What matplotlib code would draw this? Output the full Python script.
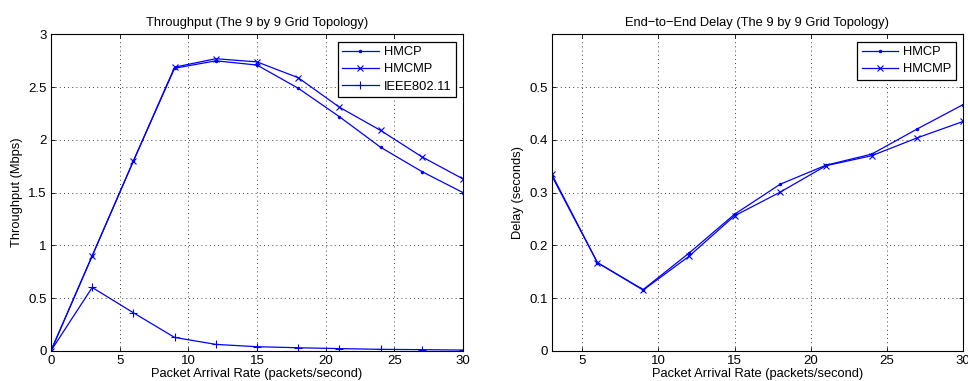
import numpy as np
import matplotlib.pyplot as plt

plt.rcParams['font.family'] = ['Liberation Sans', 'DejaVu Sans']

# throughput data (9 by 9 grid)
rate_tp = [0, 3, 6, 9, 12, 15, 18, 21, 24, 27, 30]
tp_hmcp = [0, 0.90, 1.80, 2.68, 2.75, 2.71, 2.49, 2.22, 1.93, 1.70, 1.50]
tp_hmcmp = [0, 0.90, 1.80, 2.69, 2.77, 2.74, 2.59, 2.31, 2.09, 1.84, 1.63]
tp_ieee = [0, 0.60, 0.36, 0.126, 0.06, 0.038, 0.028, 0.02, 0.013, 0.01, 0.006]

# end-to-end delay data
rate_dl = [3, 6, 9, 12, 15, 18, 21, 24, 27, 30]
dl_hmcp = [0.332, 0.167, 0.116, 0.185, 0.259, 0.316, 0.352, 0.373, 0.421, 0.467]
dl_hmcmp = [0.335, 0.167, 0.115, 0.179, 0.256, 0.301, 0.351, 0.370, 0.404, 0.435]

FS = 9.3


def style_axes(ax):
    ax.grid(True, color='black', linestyle=(0, (1, 4)), linewidth=0.6)
    ax.tick_params(direction='in', top=True, right=True, labelsize=FS + 0.2,
                   length=3, width=0.6, pad=3)
    for s in ax.spines.values():
        s.set_linewidth(0.8)


def add_legend(ax):
    leg = ax.legend(loc='upper right', fontsize=FS, fancybox=False, framealpha=1,
                    edgecolor='black', borderaxespad=0.55, handlelength=2.8,
                    handletextpad=0.4, labelspacing=0.4, borderpad=0.35)
    leg.get_frame().set_linewidth(0.9)


fig = plt.figure(figsize=(9.68, 3.81), dpi=100)

# Throughput
ax1 = fig.add_axes([0.0527, 0.0795, 0.4256, 0.830])
ax1.plot(rate_tp, tp_hmcp, color='blue', lw=0.9, marker='.', ms=3, label='HMCP')
ax1.plot(rate_tp, tp_hmcmp, color='blue', lw=0.9, marker='x', ms=4.5, mew=0.8, label='HMCMP')
ax1.plot(rate_tp, tp_ieee, color='blue', lw=0.9, marker='+', ms=6, mew=0.8, label='IEEE802.11')
ax1.set_xlim(0, 30)
ax1.set_ylim(0, 3)
ax1.set_xticks(np.arange(0, 31, 5))
ax1.set_yticks([0, 0.5, 1, 1.5, 2, 2.5, 3])
ax1.set_yticklabels(['0', '0.5', '1', '1.5', '2', '2.5', '3'])
ax1.set_xlabel('Packet Arrival Rate (packets/second)', fontsize=FS, labelpad=1)
ax1.set_ylabel('Throughput (Mbps)', fontsize=FS, labelpad=4)
ax1.set_title('Throughput (The 9 by 9 Grid Topology)', fontsize=FS, pad=6)
style_axes(ax1)
add_legend(ax1)

# Delay
ax2 = fig.add_axes([0.570, 0.0795, 0.425, 0.830])
ax2.plot(rate_dl, dl_hmcp, color='blue', lw=0.9, marker='.', ms=3, label='HMCP')
ax2.plot(rate_dl, dl_hmcmp, color='blue', lw=0.9, marker='x', ms=4.5, mew=0.8, label='HMCMP')
ax2.set_xlim(3, 30)
ax2.set_ylim(0, 0.6)
ax2.set_xticks(np.arange(5, 31, 5))
ax2.set_yticks([0, 0.1, 0.2, 0.3, 0.4, 0.5])
ax2.set_yticklabels(['0', '0.1', '0.2', '0.3', '0.4', '0.5'])
ax2.set_xlabel('Packet Arrival Rate (packets/second)', fontsize=FS, labelpad=1)
ax2.set_ylabel('Delay (seconds)', fontsize=FS, labelpad=4)
ax2.set_title('End\u2212to\u2212End Delay (The 9 by 9 Grid Topology)', fontsize=FS, pad=6)
style_axes(ax2)
add_legend(ax2)

fig.savefig('out.png', dpi=100)
